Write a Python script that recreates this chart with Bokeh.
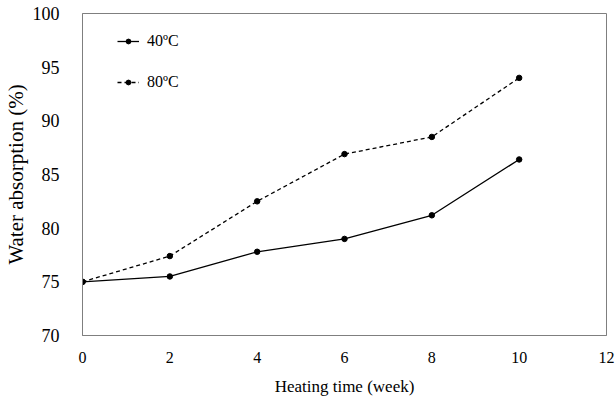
from bokeh.plotting import figure
from bokeh.models import Range1d, FixedTicker, Legend, LegendItem
from bokeh.embed import file_html
from bokeh.resources import INLINE

weeks = [0, 2, 4, 6, 8, 10]
absorption_40 = [75.0, 75.5, 77.8, 79.0, 81.2, 86.4]
absorption_80 = [75.0, 77.4, 82.5, 86.9, 88.5, 94.0]
x_ticks = [0, 2, 4, 6, 8, 10, 12]
y_ticks = [70, 75, 80, 85, 90, 95, 100]
labels = ["40ºC", "80ºC"]

FONT = "Liberation Serif"

p = figure(width=615, height=399, output_backend="svg", toolbar_location=None,
           x_range=Range1d(0, 12), y_range=Range1d(70, 100),
           min_border_left=82, min_border_right=9, min_border_top=13, min_border_bottom=64)
p.background_fill_color = "white"
p.border_fill_color = "white"
p.outline_line_color = "#7f7f7f"
p.outline_line_width = 1
p.xgrid.visible = False
p.ygrid.visible = False

for ax in (p.xaxis[0], p.yaxis[0]):
    ax.axis_line_color = "#7f7f7f"
    ax.major_tick_line_color = None
    ax.minor_tick_line_color = None
    ax.major_label_text_font = FONT
    ax.major_label_text_color = "black"
    ax.axis_label_text_font = FONT
    ax.axis_label_text_font_style = "normal"
    ax.axis_label_text_color = "black"

p.xaxis.ticker = FixedTicker(ticks=x_ticks)
p.yaxis.ticker = FixedTicker(ticks=y_ticks)
p.xaxis.major_label_text_font_size = "16px"
p.yaxis.major_label_text_font_size = "18px"
p.xaxis.major_label_standoff = 10
p.yaxis.major_label_standoff = 17
p.xaxis.axis_label = "Heating time (week)"
p.yaxis.axis_label = "Water absorption (%)"
p.xaxis.axis_label_text_font_size = "17px"
p.yaxis.axis_label_text_font_size = "21px"
p.xaxis.axis_label_standoff = 11
p.yaxis.axis_label_standoff = 2

l40 = p.line(weeks, absorption_40, line_color="black", line_width=1.3)
c40 = p.scatter(weeks, absorption_40, size=5.5, fill_color="black", line_color="black")
l80 = p.line(weeks, absorption_80, line_color="black", line_width=1.3, line_dash="4 3")
c80 = p.scatter(weeks, absorption_80, size=5.5, fill_color="black", line_color="black")

legend = Legend(items=[LegendItem(label=labels[0], renderers=[l40, c40]),
                       LegendItem(label=labels[1], renderers=[l80, c80])],
                location=(35, 243), margin=0, padding=0, spacing=21,
                glyph_width=22, glyph_height=12, label_height=20, label_standoff=8,
                label_text_font=FONT, label_text_font_size="16px",
                label_text_color="black",
                border_line_color=None, background_fill_alpha=0)
p.add_layout(legend)

open("out.html", "w").write(file_html(p, INLINE))
